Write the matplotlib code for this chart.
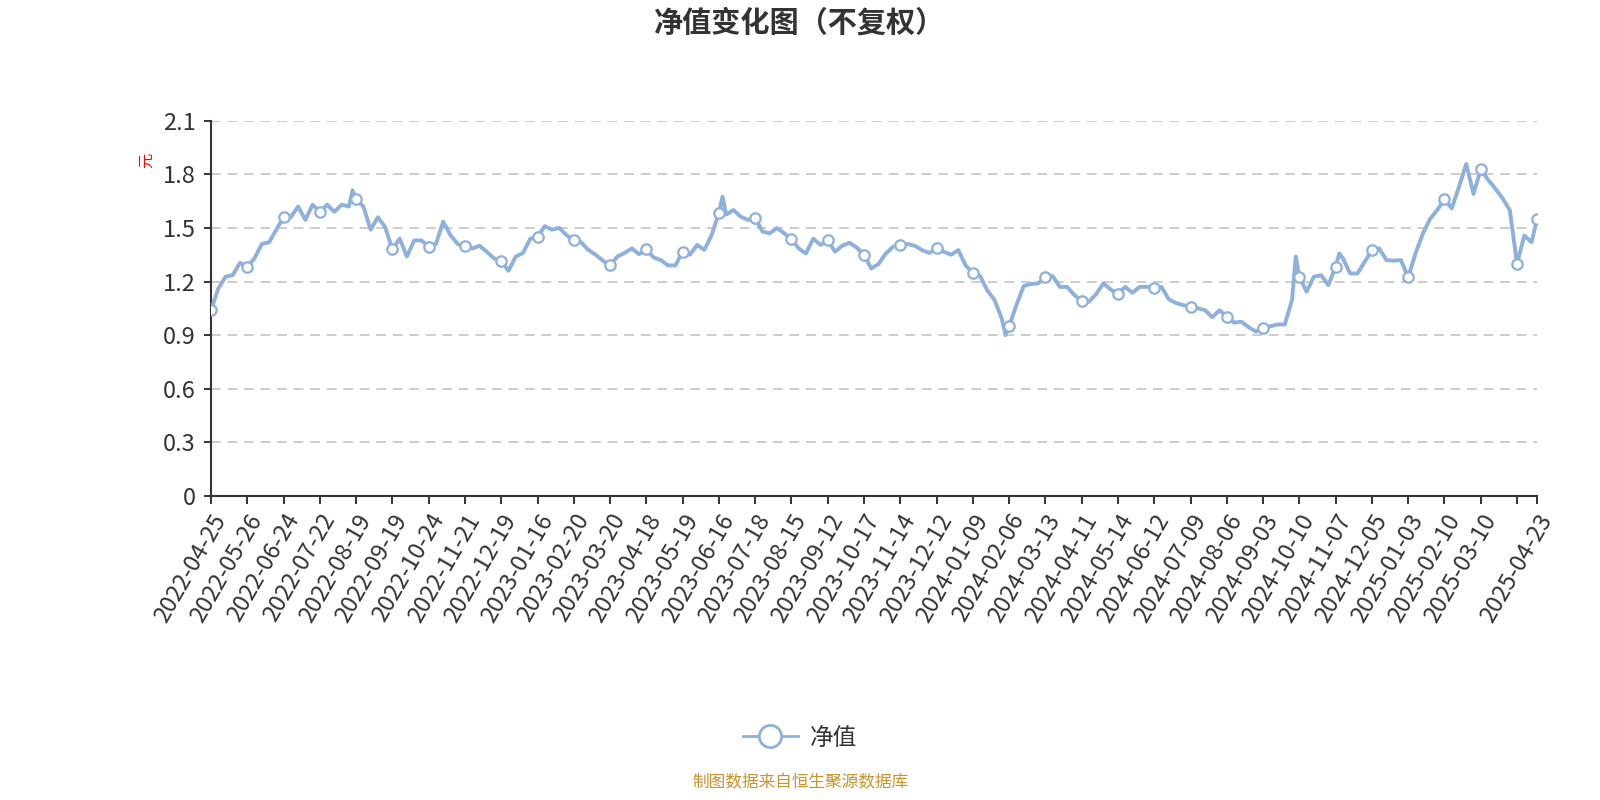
import matplotlib
matplotlib.use("Agg")
import matplotlib.pyplot as plt
from matplotlib.lines import Line2D

plt.rcParams['font.family'] = ['Noto Sans CJK SC', 'DejaVu Sans']

# 交易日序号 (0 = 2022-04-25) 和对应净值
days = [0, 4, 8, 12, 16, 20, 24, 28, 32, 36, 40, 44, 48, 52, 56, 60, 64, 68, 72, 76,
        78, 80, 84, 88, 92, 96, 100, 104, 108, 112, 116, 120, 124, 128, 132, 136, 140,
        144, 148, 152, 156, 160, 164, 168, 172, 176, 180, 184, 188, 192, 196, 200,
        204, 208, 212, 216, 220, 224, 228, 232, 236, 240, 244, 248, 252, 256, 260,
        264, 268, 272, 276, 280, 282, 284, 288, 292, 296, 300, 304, 308, 312, 316,
        320, 324, 328, 332, 336, 340, 344, 348, 352, 356, 360, 364, 368, 372, 376,
        380, 384, 388, 392, 396, 400, 404, 408, 412, 416, 420, 424, 428, 432, 436,
        438, 440, 444, 448, 452, 456, 460, 464, 468, 472, 476, 480, 484, 488, 492,
        496, 500, 504, 508, 512, 516, 520, 524, 528, 532, 536, 540, 544, 548, 552,
        556, 560, 564, 568, 572, 576, 580, 584, 588, 592, 596, 598, 600, 604, 608,
        612, 616, 620, 622, 624, 628, 632, 636, 640, 644, 648, 652, 656, 660, 664,
        668, 672, 676, 680, 684, 688, 692, 696, 700, 704, 708, 712, 716, 720, 724,
        728, 731]
nav = [1.04, 1.16, 1.227, 1.236, 1.305, 1.283, 1.33, 1.41, 1.42, 1.49, 1.56, 1.56, 1.62, 1.545, 1.63, 1.59, 1.63, 1.59, 1.63, 1.62,
       1.71, 1.66, 1.62, 1.49, 1.56, 1.505, 1.38, 1.44, 1.34, 1.43, 1.43, 1.395, 1.41, 1.535, 1.46, 1.41, 1.40,
       1.385, 1.40, 1.367, 1.33, 1.315, 1.26, 1.34, 1.36, 1.44, 1.45, 1.51, 1.49, 1.50, 1.46, 1.43,
       1.42, 1.377, 1.35, 1.317, 1.29, 1.34, 1.36, 1.385, 1.353, 1.38, 1.335, 1.32, 1.29, 1.29, 1.367,
       1.35, 1.405, 1.377, 1.46, 1.585, 1.675, 1.575, 1.60, 1.563, 1.545, 1.555, 1.48, 1.47, 1.50, 1.47,
       1.436, 1.385, 1.357, 1.44, 1.405, 1.43, 1.367, 1.40, 1.417, 1.39, 1.35, 1.273, 1.298, 1.357, 1.395,
       1.405, 1.41, 1.40, 1.376, 1.36, 1.385, 1.367, 1.35, 1.376, 1.29, 1.25, 1.23, 1.15, 1.096, 0.99,
       0.90, 0.95, 1.068, 1.175, 1.186, 1.19, 1.227, 1.23, 1.17, 1.17, 1.124, 1.09, 1.087, 1.13, 1.19,
       1.155, 1.133, 1.17, 1.137, 1.17, 1.17, 1.165, 1.17, 1.10, 1.08, 1.068, 1.06, 1.05, 1.04, 1.00,
       1.04, 1.00, 0.97, 0.975, 0.945, 0.92, 0.94, 0.95, 0.96, 0.96, 1.10, 1.34, 1.227, 1.143, 1.227,
       1.235, 1.18, 1.283, 1.357, 1.33, 1.245, 1.245, 1.31, 1.376, 1.385, 1.32, 1.317, 1.32, 1.223, 1.357,
       1.466, 1.55, 1.60, 1.66, 1.61, 1.73, 1.858, 1.69, 1.828, 1.77, 1.72, 1.666, 1.60, 1.30, 1.457,
       1.42, 1.55]

tick_days = list(range(0, 721, 20)) + [731]
tick_labels = ['2022-04-25', '2022-05-26', '2022-06-24', '2022-07-22', '2022-08-19',
               '2022-09-19', '2022-10-24', '2022-11-21', '2022-12-19', '2023-01-16',
               '2023-02-20', '2023-03-20', '2023-04-18', '2023-05-19', '2023-06-16',
               '2023-07-18', '2023-08-15', '2023-09-12', '2023-10-17', '2023-11-14',
               '2023-12-12', '2024-01-09', '2024-02-06', '2024-03-13', '2024-04-11',
               '2024-05-14', '2024-06-12', '2024-07-09', '2024-08-06', '2024-09-03',
               '2024-10-10', '2024-11-07', '2024-12-05', '2025-01-03', '2025-02-10',
               '2025-03-10', '', '2025-04-23']
y_ticks = [0, 0.3, 0.6, 0.9, 1.2, 1.5, 1.8, 2.1]

line_color = '#8eb0dd'
text_color = '#333333'

fig = plt.figure(figsize=(16, 8), dpi=100)
ax = fig.add_axes([211 / 1600, 1 - 496 / 800, 1326 / 1600, 375.3 / 800])

ax.plot(days, nav, color=line_color, lw=2.8, solid_joinstyle='round', zorder=3)

# 只在刻度位置画空心圆点
mk_x = [d for d in days if d in tick_days]
mk_y = [v for d, v in zip(days, nav) if d in tick_days]
ax.plot(mk_x, mk_y, 'o', ms=7.5, mfc='white', mec=line_color, mew=1.6, zorder=4)

ax.set_xlim(0, 731)
ax.set_ylim(0, 2.1)
ax.set_yticks(y_ticks)
ax.set_yticklabels(['0', '0.3', '0.6', '0.9', '1.2', '1.5', '1.8', '2.1'])
ax.set_xticks(tick_days)
ax.set_xticklabels(tick_labels, rotation=60, ha='right', rotation_mode='anchor')

ax.tick_params(axis='both', colors=text_color, labelsize=17, width=1.4)
ax.tick_params(axis='x', length=6, pad=4)
ax.tick_params(axis='y', length=5, pad=6)

for s in ['top', 'right']:
    ax.spines[s].set_visible(False)
for s in ['left', 'bottom']:
    ax.spines[s].set_color(text_color)
    ax.spines[s].set_linewidth(1.5)

ax.yaxis.grid(True, color='#cccccc', lw=1.4, linestyle=(0, (5, 3.5)))
ax.set_axisbelow(True)

fig.text(0.5, 1 - 23 / 800, '净值变化图（不复权）', ha='center', va='center',
         fontsize=21, fontweight='bold', color=text_color)
fig.text(147 / 1600, 1 - 160 / 800, '元', rotation=90, ha='center', va='center',
         fontsize=11, color='red')

handle = Line2D([], [], color=line_color, lw=2, marker='o', ms=16,
                mfc='white', mec=line_color, mew=2)
fig.legend([handle], ['净值'], loc='center', bbox_to_anchor=(0.5, 1 - 738 / 800),
           frameon=False, fontsize=17, handlelength=2.3, handletextpad=0.5,
           labelcolor=text_color)

fig.text(0.5, 1 - 783 / 800, '制图数据来自恒生聚源数据库', ha='center', va='center',
         fontsize=12, color='#c8922c')

fig.savefig('out.png', dpi=100)
